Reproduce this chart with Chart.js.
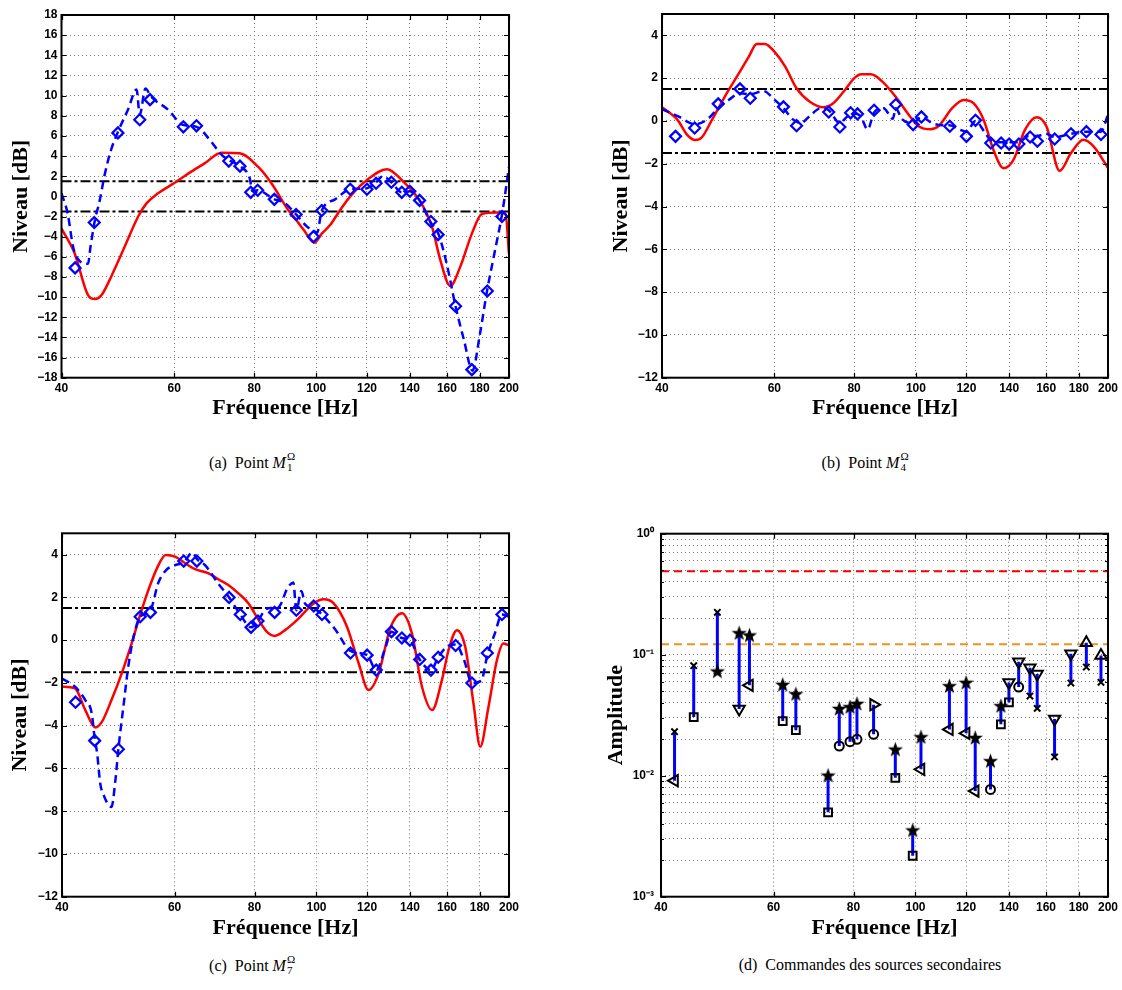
<!DOCTYPE html>
<html lang="fr">
<head>
<meta charset="utf-8">
<title>Niveaux et commandes</title>
<script src="https://cdn.jsdelivr.net/npm/chart.js@4.4.1/dist/chart.umd.min.js"></script>
<style>
  body { margin: 0; background: #fff; width: 1122px; height: 990px; position: relative; overflow: hidden;
         font-family: "Liberation Serif", "Times New Roman", serif; color: #000; }
  canvas { position: absolute; }
  .legende { position: absolute; font-size: 16px; white-space: nowrap; transform: translateX(-50%); line-height: 20px; }
  .idx { display: inline-block; position: relative; width: 11px; height: 16px; }
  .idx .h, .idx .b { position: absolute; left: 1px; font-size: 11px; line-height: 12px; }
  .idx .h { top: -2px; }
  .idx .b { top: 9px; }
</style>
</head>
<body>
<canvas id="graphA" width="540" height="430" style="left:0;top:0"></canvas>
<canvas id="graphB" width="562" height="430" style="left:560px;top:0"></canvas>
<canvas id="graphC" width="540" height="450" style="left:0;top:500px"></canvas>
<canvas id="graphD" width="562" height="450" style="left:560px;top:500px"></canvas>

<div class="legende" style="left:253px;top:452px">(a)&nbsp; Point <i>M</i><span class="idx"><span class="h">Ω</span><span class="b">1</span></span></div>
<div class="legende" style="left:866px;top:452px">(b)&nbsp; Point <i>M</i><span class="idx"><span class="h">Ω</span><span class="b">4</span></span></div>
<div class="legende" style="left:253px;top:955px">(c)&nbsp; Point <i>M</i><span class="idx"><span class="h">Ω</span><span class="b">7</span></span></div>
<div class="legende" style="left:870px;top:955px">(d)&nbsp; Commandes des sources secondaires</div>

<script>
// =============================================
// Données
// =============================================

const freqTicks = [40, 60, 80, 100, 120, 140, 160, 180, 200];
const niveauTicksM1 = [-18, -16, -14, -12, -10, -8, -6, -4, -2, 0, 2, 4, 6, 8, 10, 12, 14, 16, 18];
const niveauTicks = [-12, -10, -8, -6, -4, -2, 0, 2, 4];
const ampTicks = [0.001, 0.002, 0.003, 0.004, 0.005, 0.006, 0.007, 0.008, 0.009,
                  0.01, 0.02, 0.03, 0.04, 0.05, 0.06, 0.07, 0.08, 0.09,
                  0.1, 0.2, 0.3, 0.4, 0.5, 0.6, 0.7, 0.8, 0.9, 1];

// fréquences des points de mesure / des commandes
const freqMesure = [42, 45, 49, 53, 55, 62, 65, 73, 76, 79, 81, 86, 93, 99, 102,
                    113, 120, 124, 131, 136, 140, 145, 151, 155, 165, 175, 185, 195];
const seuilNiveau = [1.5, -1.5];

// (a) point M1
const freqRougeM1 = [40, 41.9, 44, 45.1, 46.2, 47.8, 50.2, 52.7, 54.3, 56.6, 60.1, 63.8, 67, 71.1, 75.9,
                     81.1, 85.1, 90.4, 92.7, 95.5, 99.3, 102, 105.1, 109, 113, 119.9, 128.9, 136.8,
                     145.3, 151.6, 156.2, 161.9, 167.8, 175, 181.4, 191.5, 197.5, 200];
const niveauRougeM1 = [-3.2, -5.6, -9.8, -10.2, -9.8, -8.0, -5.0, -2.0, -0.7, 0.3, 1.35, 2.45, 3.3, 4.33, 4.27,
                       2.94, 1.3, -1.35, -2.2, -3.3, -4.6, -3.7, -2.85, -1.35, 0.0, 1.6, 2.7, 1.45,
                       -0.5, -3.0, -6.3, -8.9, -7.0, -3.7, -1.75, -1.6, -1.7, -5.7];
const freqBleuM1 = [40, 40.9, 41.7, 42.4, 44, 44.4, 45.1, 45.9, 46.7, 47.8, 49, 50.8, 52.4, 53, 54.1, 55.2,
                    58.7, 61.9, 65, 68.6, 70.7, 73, 76, 78.7, 79.5, 81, 86, 89, 93, 96.7, 99, 100.3, 102,
                    107, 113, 120, 124, 127, 131, 136, 140, 145, 150.6, 155.3, 160, 165, 170, 175.4,
                    180, 184.8, 190, 194.9, 200];
const niveauBleuM1 = [0.3, -1.7, -5.0, -6.2, -6.7, -5.0, -2.4, -0.4, 2.1, 4.6, 6.4, 8.6, 10.6, 8.1, 10.7, 9.9,
                      8.6, 7.1, 6.9, 5.4, 4.3, 3.6, 3.0, 1.8, 0.5, 0.6, -0.3, -0.6, -1.8, -3.0, -3.4, -3.6, -1.4,
                      -0.3, 0.7, 0.8, 1.4, 2.0, 1.4, 0.4, 0.5, -0.4, -2.5, -3.8, -6.8, -10.9, -14.2, -17.3,
                      -13.8, -9.4, -5.5, -1.9, 2.9];
const niveauMesureM1 = [-7.1, -2.6, 6.3, 7.6, 9.6, 6.9, 7.0, 3.5, 3.0, 0.4, 0.6, -0.3, -1.8, -4.0, -1.4,
                        0.7, 0.7, 1.3, 1.4, 0.4, 0.5, -0.4, -2.5, -3.8, -10.9, -17.2, -9.4, -2.0];

// (b) point M4
const freqRougeM4 = [40, 42.3, 43.8, 45.1, 46.2, 47.9, 50, 52.4, 54.7, 56.3, 58, 60, 62.4, 65, 68.2, 71.6,
                     74.2, 77.4, 80, 82.1, 85, 88.6, 92.9, 97.5, 101.1, 105.4, 108.6, 113.9, 118.8, 123.1,
                     127.7, 132.3, 137.2, 142.2, 148.2, 154.6, 160.2, 168, 175, 183, 190, 200];
const niveauRougeM4 = [0.64, 0.05, -0.65, -0.89, -0.76, 0.05, 1.06, 2.07, 3.0, 3.6, 3.6, 3.24, 2.54, 1.53, 0.9, 0.64,
                       0.83, 1.45, 1.99, 2.18, 2.18, 1.84, 1.14, 0.28, -0.26, -0.39, -0.23, 0.59, 0.98, 0.83,
                       0.05, -1.36, -2.21, -1.82, -0.42, 0.17, -0.26, -2.33, -1.5, -0.88, -1.2, -2.2];
const freqBleuM4 = [40, 42.5, 44.3, 45, 47, 49, 51, 53, 55, 57.7, 60, 62, 64, 66, 68, 71, 73, 76, 78, 80,
                    82, 84, 86, 89, 92, 93, 95, 99, 102, 106, 110, 113, 117, 120, 124, 128, 131, 136, 140, 145,
                    150, 155, 160, 165, 175, 185, 195, 200];
const niveauBleuM4 = [0.55, 0.2, -0.1, -0.15, 0.05, 0.6, 1.0, 1.3, 1.25, 1.4, 1.0, 0.6, 0.1, -0.1, 0.2, 0.6, 0.5, -0.1, 0.2, 0.35,
                      0.2, -0.4, 0.4, 0.6, 0.1, 0.6, 0.1, -0.1, 0.2, -0.1, -0.2, -0.2, -0.4, -0.5, 0.0, -0.5, -0.9, -1.0, -1.0, -1.0,
                      -0.7, -0.7, -0.6, -0.75, -0.6, -0.5, -0.5, 0.3];
const niveauMesureM4 = [-0.72, -0.33, 0.8, 1.5, 1.06, 0.66, -0.22, 0.42, -0.28, 0.38, 0.33, 0.5, 0.77, -0.17, 0.19,
                        -0.25, -0.72, 0.03, -1.03, -1.03, -1.08, -1.08, -0.75, -0.95, -0.84, -0.6, -0.5, -0.63];

// (c) point M7
const freqRougeM7 = [40, 41.9, 43.5, 45.1, 46.2, 47.8, 49.6, 51.4, 53, 54.6, 56.3, 58.1, 60.1, 62.3, 64.6, 67.8,
                     70.2, 72.8, 75.5, 78.3, 80.6, 83.6, 86.1, 89.3, 93.2, 99, 102.6, 106.4, 111.6, 116.4,
                     120.6, 125.1, 130.4, 136, 141, 146.2, 151.6, 157.1, 160.9, 165.8, 170.8, 176, 180.3,
                     185.8, 191.5, 196, 200];
const niveauRougeM7 = [-2.17, -2.25, -3.27, -4.08, -3.81, -2.8, -1.55, -0.15, 1.18, 2.35, 3.36, 3.99, 3.91, 3.6, 3.32, 3.13,
                       2.85, 2.58, 2.19, 1.72, 1.1, 0.4, 0.2, 0.47, 0.94, 1.72, 1.91, 1.72, 0.63, -1.08,
                       -2.33, -1.55, 0.55, 1.26, 0.32, -2.18, -3.27, -1.86, -0.46, 0.47, -0.3, -2.96, -4.98,
                       -3.1, -0.93, -0.15, -0.25];
const freqBleuM7 = [40, 42, 43.5, 44.5, 45, 45.4, 45.9, 46.4, 47.8, 48.5, 49, 49.9, 50.8, 51.8, 53, 55, 56.6, 58.3,
                    60, 62, 64, 65, 67, 70, 73, 76, 79, 81, 83, 85, 86, 88, 89.8, 92, 93, 94.7, 96, 99, 102,
                    107, 113, 120, 124, 128, 131, 136, 140, 145, 151, 155, 160, 165, 170, 175, 181, 185, 190,
                    195, 200];
const niveauBleuM7 = [-1.8, -2.2, -2.8, -3.4, -4.6, -5.3, -6.7, -7.2, -7.8, -6.5, -5.1, -3.1, -1.2, 0.2, 1.1, 1.4, 2.7, 3.3,
                      3.5, 3.65, 4.1, 3.8, 3.5, 2.7, 2.0, 1.2, 0.6, 0.9, 1.4, 1.5, 1.4, 1.7, 2.35, 2.7, 1.4, 2.3, 1.7, 1.5, 1.2,
                      0.5, -0.5, -0.7, -1.4, -0.4, 0.4, 0.1, 0.0, -0.9, -1.4, -0.8, -0.3, -0.2, -0.9, -2.0, -1.9, -0.7, 0.3,
                      1.2, 1.1];
const niveauMesureM7 = [-2.9, -4.7, -5.1, 1.1, 1.3, 3.7, 3.7, 2.0, 1.2, 0.6, 0.9, 1.3, 1.4, 1.6, 1.2,
                        -0.6, -0.7, -1.4, 0.4, 0.1, 0.0, -0.9, -1.4, -0.8, -0.25, -2.0, -0.6, 1.2];

// (d) commandes des sources secondaires
const ampHaut = [0.0231, 0.0811, 0.224, 0.152, 0.1455, 0.0569, 0.0476, 0.0101, 0.036, 0.0372, 0.0396, 0.0386, 0.0166, 0.00356,
                 0.021, 0.0554, 0.0591, 0.0207, 0.0133, 0.0379, 0.059, 0.0875, 0.078, 0.0692, 0.0294, 0.102, 0.1257, 0.0987];
const symHaut = ['x', 'x', 'x', 'etoile', 'etoile', 'etoile', 'etoile', 'etoile', 'etoile', 'etoile', 'etoile', 'triD', 'etoile', 'etoile',
                 'etoile', 'etoile', 'etoile', 'etoile', 'etoile', 'etoile', 'triB', 'triB', 'triB', 'triB', 'triB', 'triB', 'triH', 'triH'];
const ampBas = [0.0091, 0.0305, 0.0733, 0.0356, 0.0558, 0.0283, 0.0238, 0.00498, 0.0176, 0.0191, 0.020, 0.022, 0.0096, 0.00218,
                0.01128, 0.0241, 0.0224, 0.00747, 0.0077, 0.0266, 0.0404, 0.054, 0.0455, 0.036, 0.0143, 0.0583, 0.079, 0.0591];
const symBas = ['triG', 'carre', 'etoile', 'triB', 'triG', 'carre', 'carre', 'carre', 'rond', 'rond', 'rond', 'rond', 'carre', 'carre',
                'triG', 'triG', 'triG', 'triG', 'rond', 'carre', 'carre', 'rond', 'x', 'x', 'x', 'x', 'x', 'x'];
const limiteRouge = 0.49;
const limiteOrange = 0.122;

// =============================================
// Styles communs
// =============================================

Chart.defaults.color = '#000';
const fontTicks = { family: '"Liberation Sans", Arial, sans-serif', size: 12, weight: 'bold' };
const fontTitre = { family: '"Liberation Serif", "Times New Roman", serif', size: 22, weight: 'bold' };
const grille = { color: '#7a7a7a', lineWidth: 1, drawTicks: false };
const bordure = { display: false, dash: [1, 3] };

const moins = v => (v < 0 ? '\u2212' + Math.abs(v) : String(v));
const courbe = (fs, vs) => fs.map((f, i) => ({ x: f, y: vs[i] }));
const horizontale = v => [{ x: freqTicks[0], y: v }, { x: freqTicks[freqTicks.length - 1], y: v }];

// cadre noir + petites graduations intérieures (style MATLAB)
const cadre = {
  id: 'cadre',
  afterDraw(chart) {
    const { ctx, chartArea: a, scales } = chart;
    ctx.save();
    ctx.strokeStyle = '#000';
    ctx.lineWidth = 1.2;
    ctx.beginPath();
    scales.x.ticks.forEach(t => {
      const px = Math.round(scales.x.getPixelForValue(t.value)) + 0.5;
      ctx.moveTo(px, a.bottom); ctx.lineTo(px, a.bottom - 5);
      ctx.moveTo(px, a.top); ctx.lineTo(px, a.top + 5);
    });
    scales.y.ticks.forEach(t => {
      const py = Math.round(scales.y.getPixelForValue(t.value)) + 0.5;
      const l = t.mineur ? 3 : 5;
      ctx.moveTo(a.left, py); ctx.lineTo(a.left + l, py);
      ctx.moveTo(a.right, py); ctx.lineTo(a.right - l, py);
    });
    ctx.stroke();
    ctx.lineWidth = 2;
    ctx.strokeRect(a.left, a.top, a.right - a.left, a.bottom - a.top);
    ctx.restore();
  }
};

function axeFreq(hauteur, padTitre) {
  return {
    type: 'logarithmic', min: freqTicks[0], max: freqTicks[freqTicks.length - 1],
    afterBuildTicks: s => { s.ticks = freqTicks.map(v => ({ value: v })); },
    afterFit: s => { s.height = hauteur; },
    grid: grille, border: bordure,
    ticks: { font: fontTicks, padding: 4, autoSkip: false, maxRotation: 0, callback: v => String(v) },
    title: { display: true, text: 'Fréquence [Hz]', font: fontTitre, padding: { top: 0, bottom: padTitre } }
  };
}

// =============================================
// Graphiques de niveau (a), (b), (c)
// =============================================

function graphNiveau(id, p) {
  return new Chart(document.getElementById(id), {
    type: 'line',
    data: {
      datasets: [
        { data: courbe(freqMesure, p.mesure), showLine: false, pointStyle: 'rectRot', pointRadius: 5.5,
          pointBorderWidth: 2.2, pointBorderColor: '#0000ff', pointBackgroundColor: 'rgba(255,255,255,0)' },
        { data: courbe(p.fBleu, p.vBleu), borderColor: '#0000ff', borderWidth: 2.5, borderDash: [8, 5],
          pointRadius: 0, cubicInterpolationMode: 'monotone' },
        { data: courbe(p.fRouge, p.vRouge), borderColor: '#ff0000', borderWidth: 2.5,
          pointRadius: 0, cubicInterpolationMode: 'monotone' },
        { data: horizontale(seuilNiveau[0]), borderColor: '#000', borderWidth: 2, borderDash: [10, 3, 3, 3], pointRadius: 0 },
        { data: horizontale(seuilNiveau[1]), borderColor: '#000', borderWidth: 2, borderDash: [10, 3, 3, 3], pointRadius: 0 }
      ]
    },
    options: {
      responsive: false, animation: false,
      layout: { padding: p.padding },
      plugins: { legend: { display: false }, tooltip: { enabled: false } },
      scales: {
        x: axeFreq(p.hautX, p.padTitreX),
        y: {
          type: 'linear', min: p.yMin, max: p.yMax,
          afterBuildTicks: s => { s.ticks = p.yTicks.map(v => ({ value: v })); },
          afterFit: s => { s.width = p.largY; },
          grid: grille, border: bordure,
          ticks: { font: fontTicks, padding: 4, autoSkip: false, callback: v => moins(v) },
          title: { display: true, text: 'Niveau [dB]', font: fontTitre, padding: { top: p.padTitreY, bottom: 0 } }
        }
      }
    },
    plugins: [cadre]
  });
}

graphNiveau('graphA', {
  fRouge: freqRougeM1, vRouge: niveauRougeM1, fBleu: freqBleuM1, vBleu: niveauBleuM1, mesure: niveauMesureM1,
  yMin: -18, yMax: 18, yTicks: niveauTicksM1,
  padding: { top: 15, right: 31, bottom: 0, left: 0 }, largY: 61.5, hautX: 52.3, padTitreX: 8.5, padTitreY: 7.8
});
graphNiveau('graphB', {
  fRouge: freqRougeM4, vRouge: niveauRougeM4, fBleu: freqBleuM4, vBleu: niveauBleuM4, mesure: niveauMesureM4,
  yMin: -12, yMax: 5, yTicks: niveauTicks,
  padding: { top: 14, right: 12, bottom: 0, left: 0 }, largY: 102, hautX: 52.3, padTitreX: 8.5, padTitreY: 48
});
graphNiveau('graphC', {
  fRouge: freqRougeM7, vRouge: niveauRougeM7, fBleu: freqBleuM7, vBleu: niveauBleuM7, mesure: niveauMesureM7,
  yMin: -12, yMax: 5, yTicks: niveauTicks,
  padding: { top: 33.3, right: 31, bottom: 0, left: 0 }, largY: 62, hautX: 53.3, padTitreX: 8.5, padTitreY: 7.6
});

// =============================================
// Graphique (d) : commandes
// =============================================

const etoileImg = (() => {
  const c = document.createElement('canvas');
  c.width = 17; c.height = 17;
  const g = c.getContext('2d');
  g.fillStyle = '#000';
  g.beginPath();
  for (let k = 0; k < 10; k++) {
    const r = k % 2 ? 3.3 : 8;
    const ang = -Math.PI / 2 + k * Math.PI / 5;
    const px = 8.5 + r * Math.cos(ang), py = 9.3 + r * Math.sin(ang);
    if (k) g.lineTo(px, py); else g.moveTo(px, py);
  }
  g.closePath();
  g.fill();
  return c;
})();

const MARQUEURS = {
  x:      { style: 'crossRot', r: 4.5, rot: 0 },
  carre:  { style: 'rect', r: 5.5, rot: 0 },
  rond:   { style: 'circle', r: 4.5, rot: 0 },
  etoile: { style: etoileImg, r: 8, rot: 0 },
  triH:   { style: 'triangle', r: 6.5, rot: 0 },
  triB:   { style: 'triangle', r: 6.5, rot: 180 },
  triG:   { style: 'triangle', r: 6.5, rot: 270 },
  triD:   { style: 'triangle', r: 6.5, rot: 90 }
};

function marqueurs(amps, syms) {
  return {
    data: courbe(freqMesure, amps), showLine: false,
    pointStyle: c => MARQUEURS[syms[c.dataIndex]].style,
    pointRadius: c => MARQUEURS[syms[c.dataIndex]].r,
    pointRotation: c => MARQUEURS[syms[c.dataIndex]].rot,
    pointBorderColor: '#000', pointBorderWidth: 2, pointBackgroundColor: 'rgba(255,255,255,0)'
  };
}

const tiges = freqMesure.flatMap((f, i) => [{ x: f, y: ampHaut[i] }, { x: f, y: ampBas[i] }, { x: f, y: null }]);

const exposants = { '0': '10\u2070', '-1': '10\u207B\u00B9', '-2': '10\u207B\u00B2', '-3': '10\u207B\u00B3' };

new Chart(document.getElementById('graphD'), {
  type: 'line',
  data: {
    datasets: [
      marqueurs(ampHaut, symHaut),
      marqueurs(ampBas, symBas),
      { data: tiges, borderColor: '#0000ff', borderWidth: 3, pointRadius: 0, spanGaps: false },
      { data: horizontale(limiteRouge), borderColor: '#ff0000', borderWidth: 2, borderDash: [8, 5], pointRadius: 0 },
      { data: horizontale(limiteOrange), borderColor: '#f0901e', borderWidth: 2, borderDash: [8, 5], pointRadius: 0 }
    ]
  },
  options: {
    responsive: false, animation: false,
    layout: { padding: { top: 33.7, right: 12, bottom: 0, left: 0 } },
    plugins: { legend: { display: false }, tooltip: { enabled: false } },
    scales: {
      x: axeFreq(53.3, 8.8),
      y: {
        type: 'logarithmic', min: ampTicks[0], max: ampTicks[ampTicks.length - 1],
        afterBuildTicks: s => {
          s.ticks = ampTicks.map(v => {
            const e = Math.log10(v);
            return { value: v, mineur: Math.abs(e - Math.round(e)) > 1e-9 };
          });
        },
        afterFit: s => { s.width = 101; },
        grid: grille, border: bordure,
        ticks: {
          font: fontTicks, padding: 7, autoSkip: false,
          callback: v => {
            const e = Math.log10(v);
            return Math.abs(e - Math.round(e)) > 1e-9 ? '' : exposants[String(Math.round(e))];
          }
        },
        title: { display: true, text: 'Amplitude', font: fontTitre, padding: { top: 43, bottom: 0 } }
      }
    }
  },
  plugins: [cadre]
});
</script>
</body>
</html>
